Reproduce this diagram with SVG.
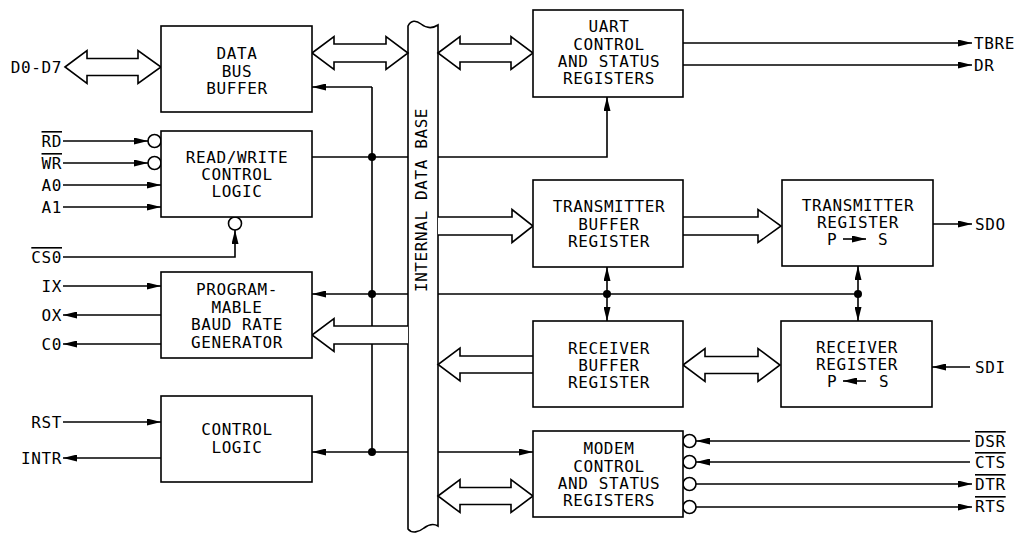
<svg xmlns="http://www.w3.org/2000/svg" width="1021" height="539" viewBox="0 0 1021 539">
<defs>
<marker id="ah" viewBox="0 0 14 7" refX="14" refY="3.5" markerWidth="14" markerHeight="7" markerUnits="userSpaceOnUse" orient="auto"><path d="M0,0 L14,3.5 L0,7 z" fill="#000"/></marker>
<style>
text{font-family:"DejaVu Sans Mono","Liberation Mono",monospace;font-size:16px;letter-spacing:0.6px;fill:#000}
.c{text-anchor:middle}
.e{text-anchor:end}
.ol{text-decoration:overline}
.box{fill:#fff;stroke:#000;stroke-width:1.6}
.ln{fill:none;stroke:#000;stroke-width:1.6}
.ar{fill:none;stroke:#000;stroke-width:1.6;marker-end:url(#ah)}
.ha{fill:#fff;stroke:#000;stroke-width:1.6;stroke-linejoin:miter}
.bub{fill:#fff;stroke:#000;stroke-width:1.6}
.dot{fill:#000}
</style>
</defs>
<rect width="1021" height="539" fill="#fff"/>

<g id="bus">
<path class="box" d="M408,26 C411,20 416,20 421,24 C426,28 432,29 438,25 L438,526 C433,523 428,525 424,528 C419,532 412,534 408,529 Z"/>
<text class="c" transform="translate(427,200) rotate(-90)">INTERNAL DATA BASE</text>
</g>

<g id="connectors">
<path class="ha" d="M65,67 L87,50.5 L87,58.5 L138,58.5 L138,50.5 L161,67 L138,83.5 L138,75.5 L87,75.5 L87,83.5 Z"/>
<path class="ha" d="M312,53 L334,36.5 L334,44 L386,44 L386,36.5 L408,53 L386,69.5 L386,62 L334,62 L334,69.5 Z"/>
<path class="ha" d="M438,53 L460,36.5 L460,44 L511,44 L511,36.5 L533,53 L511,69.5 L511,62 L460,62 L460,69.5 Z"/>
<path class="ha" d="M438,217 L512,217 L512,209.5 L533,226 L512,242.5 L512,235 L438,235"/>
<path class="ha" d="M408,326 L334,326 L334,318.5 L312,335 L334,351.5 L334,344 L408,344"/>
<path class="ha" d="M533,356 L460,356 L460,348 L438,364.5 L460,381 L460,373 L533,373"/>
<path class="ha" d="M438,496 L460,479.5 L460,487.5 L511,487.5 L511,479.5 L533,496 L511,512.5 L511,504.5 L460,504.5 L460,512.5 Z"/>
<path class="ha" d="M683,217 L758,217 L758,209.5 L781,226 L758,242.5 L758,235 L683,235"/>
<path class="ha" d="M683,365 L705,348.5 L705,356.5 L758,356.5 L758,348.5 L780,365 L758,381.5 L758,373.5 L705,373.5 L705,381.5 Z"/>

<line class="ar" x1="63" y1="141" x2="148" y2="141"/>
<circle class="bub" cx="154.5" cy="141" r="6.5"/>
<line class="ar" x1="63" y1="163" x2="148" y2="163"/>
<circle class="bub" cx="154.5" cy="163" r="6.5"/>
<line class="ar" x1="63" y1="185" x2="161" y2="185"/>
<line class="ar" x1="63" y1="207" x2="161" y2="207"/>
<polyline class="ar" points="63,257 235,257 235,230"/>
<circle class="bub" cx="235" cy="223.5" r="6.5"/>
<line class="ar" x1="63" y1="286" x2="161" y2="286"/>
<line class="ar" x1="161" y1="315" x2="63" y2="315"/>
<line class="ar" x1="161" y1="344" x2="63" y2="344"/>
<line class="ar" x1="63" y1="422" x2="161" y2="422"/>
<line class="ar" x1="161" y1="458" x2="63" y2="458"/>

<line class="ln" x1="372" y1="87" x2="372" y2="326"/>
<line class="ln" x1="372" y1="344" x2="372" y2="452"/>
<line class="ar" x1="372" y1="87" x2="312" y2="87"/>
<line class="ln" x1="312" y1="157" x2="408" y2="157"/>
<line class="ar" x1="408" y1="294" x2="312" y2="294"/>
<line class="ar" x1="408" y1="452" x2="312" y2="452"/>
<circle class="dot" cx="372" cy="157" r="4"/>
<circle class="dot" cx="372" cy="294" r="4"/>
<circle class="dot" cx="372" cy="452" r="4"/>

<polyline class="ar" points="438,157 607,157 607,97"/>
<line class="ln" x1="438" y1="294" x2="858" y2="294"/>
<line class="ar" x1="607" y1="294" x2="607" y2="267"/>
<line class="ar" x1="607" y1="294" x2="607" y2="321"/>
<line class="ar" x1="858" y1="294" x2="858" y2="266"/>
<line class="ar" x1="858" y1="294" x2="858" y2="321"/>
<circle class="dot" cx="607" cy="294" r="4"/>
<circle class="dot" cx="858" cy="294" r="4"/>
<line class="ar" x1="438" y1="452" x2="533" y2="452"/>

<line class="ar" x1="683" y1="43" x2="972" y2="43"/>
<line class="ar" x1="683" y1="65" x2="972" y2="65"/>
<line class="ar" x1="933" y1="224" x2="972" y2="224"/>
<line class="ar" x1="970" y1="367" x2="932" y2="367"/>
<line class="ar" x1="970" y1="441" x2="696" y2="441"/>
<circle class="bub" cx="689.5" cy="441" r="6.5"/>
<line class="ar" x1="970" y1="462" x2="696" y2="462"/>
<circle class="bub" cx="689.5" cy="462" r="6.5"/>
<line class="ar" x1="696" y1="484" x2="972" y2="484"/>
<circle class="bub" cx="689.5" cy="484" r="6.5"/>
<line class="ar" x1="696" y1="507" x2="972" y2="507"/>
<circle class="bub" cx="689.5" cy="507" r="6.5"/>
</g>

<g id="labels">
<text class="e" x="62" y="73">D0-D7</text>
<text class="e ol" x="62" y="147">RD</text>
<text class="e ol" x="62" y="169">WR</text>
<text class="e" x="62" y="191">A0</text>
<text class="e" x="62" y="213">A1</text>
<text class="e ol" x="62" y="263">CS0</text>
<text class="e" x="62" y="292">IX</text>
<text class="e" x="62" y="321">OX</text>
<text class="e" x="62" y="350">C0</text>
<text class="e" x="62" y="428">RST</text>
<text class="e" x="62" y="464">INTR</text>
<text x="974" y="49">TBRE</text>
<text x="974" y="71">DR</text>
<text x="975" y="230">SDO</text>
<text x="975" y="373">SDI</text>
<text class="ol" x="975" y="447">DSR</text>
<text class="ol" x="975" y="468">CTS</text>
<text class="ol" x="975" y="490">DTR</text>
<text class="ol" x="975" y="512">RTS</text>
</g>

<g id="data-bus-buffer">
<rect class="box" x="161" y="26" width="151" height="86"/>
<text class="c" x="237" y="59">DATA</text>
<text class="c" x="237" y="77">BUS</text>
<text class="c" x="237" y="94">BUFFER</text>
</g>

<g id="read-write-control-logic">
<rect class="box" x="161" y="131" width="151" height="86"/>
<text class="c" x="237" y="163">READ/WRITE</text>
<text class="c" x="237" y="180">CONTROL</text>
<text class="c" x="237" y="197">LOGIC</text>
</g>

<g id="baud-rate-generator">
<rect class="box" x="161" y="272" width="151" height="86"/>
<text class="c" x="237" y="295">PROGRAM-</text>
<text class="c" x="237" y="312.5">MABLE</text>
<text class="c" x="237" y="330">BAUD RATE</text>
<text class="c" x="237" y="347.5">GENERATOR</text>
</g>

<g id="control-logic">
<rect class="box" x="161" y="396" width="151" height="86"/>
<text class="c" x="237" y="435">CONTROL</text>
<text class="c" x="237" y="453">LOGIC</text>
</g>

<g id="uart-control">
<rect class="box" x="533" y="10" width="150" height="87"/>
<text class="c" x="609" y="32">UART</text>
<text class="c" x="609" y="49.5">CONTROL</text>
<text class="c" x="609" y="67">AND STATUS</text>
<text class="c" x="609" y="84">REGISTERS</text>
</g>

<g id="transmitter-buffer-register">
<rect class="box" x="533" y="180" width="150" height="87"/>
<text class="c" x="609" y="212">TRANSMITTER</text>
<text class="c" x="609" y="230">BUFFER</text>
<text class="c" x="609" y="247">REGISTER</text>
</g>

<g id="receiver-buffer-register">
<rect class="box" x="533" y="321" width="150" height="86"/>
<text class="c" x="609" y="354">RECEIVER</text>
<text class="c" x="609" y="371">BUFFER</text>
<text class="c" x="609" y="388">REGISTER</text>
</g>

<g id="modem-control">
<rect class="box" x="533" y="431" width="150" height="86"/>
<text class="c" x="609" y="454">MODEM</text>
<text class="c" x="609" y="471.5">CONTROL</text>
<text class="c" x="609" y="489">AND STATUS</text>
<text class="c" x="609" y="506">REGISTERS</text>
</g>

<g id="transmitter-register">
<rect class="box" x="782" y="180" width="151" height="86"/>
<text class="c" x="858" y="211">TRANSMITTER</text>
<text class="c" x="858" y="228">REGISTER</text>
<text x="827" y="245">P</text>
<text x="878" y="245">S</text>
<line class="ar" x1="843" y1="239" x2="866" y2="239"/>
</g>

<g id="receiver-register">
<rect class="box" x="781" y="321" width="151" height="86"/>
<text class="c" x="857" y="353">RECEIVER</text>
<text class="c" x="857" y="370">REGISTER</text>
<text x="827" y="387">P</text>
<text x="879" y="387">S</text>
<line class="ar" x1="866" y1="381" x2="843" y2="381"/>
</g>
</svg>
